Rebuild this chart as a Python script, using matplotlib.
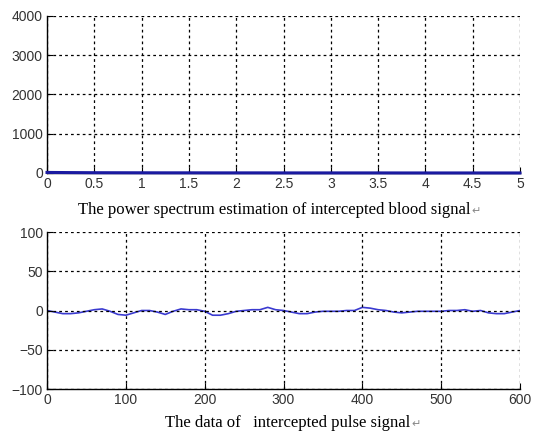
import matplotlib.pyplot as plt

# power spectrum of the blood signal (frequency, power)
freq = [0, 0.25, 0.5, 0.75, 1, 1.25, 1.5, 1.75, 2, 2.25, 2.5, 2.75, 3,
        3.25, 3.5, 3.75, 4, 4.25, 4.5, 4.75, 5]
power = [14, 10, 7, 6, 5, 4, 4, 3, 3, 3, 2, 2, 2, 2, 2, 1, 1, 1, 1, 1, 1]

# intercepted pulse signal, one value every 10 samples
sample = list(range(0, 610, 10))
pulse = [0, -2, -4, -4, -3, -1, 1, 2, -1, -5, -6, -3, 0, 0, -2, -5,
         -1, 2, 1, 1, -1, -6, -6, -4, -1, 0, 1, 1, 4, 1, 0, -2,
         -4, -4, -2, -1, -1, -1, 0, 0, 4, 3, 1, 0, -2, -3, -2, -1,
         -1, -1, -1, 0, 0, 1, -1, 0, -3, -4, -4, -2, 0]

captions = ['The power spectrum estimation of intercepted blood signal',
            'The data of   intercepted pulse signal']

plt.rcParams['font.family'] = ['Liberation Sans', 'DejaVu Sans']
fig = plt.figure(figsize=(5.33, 4.33), dpi=100)

cap_font = ['Liberation Serif', 'DejaVu Sans']
grid_style = dict(color='black', linestyle=(0, (2.2, 2.5)), linewidth=0.9)


def style(ax):
    for s in ['top', 'right']:
        ax.spines[s].set_visible(False)
    ax.spines['left'].set_linewidth(1.0)
    ax.spines['bottom'].set_linewidth(1.0)
    ax.tick_params(direction='in', length=4, labelsize=10, colors='black',
                   labelcolor='#333333', pad=3)
    ax.grid(True, **grid_style)
    ax.set_axisbelow(False)


ax1 = fig.add_axes([0.0882, 0.6005, 0.8874, 0.3626])
ax1.plot(freq, power, color='#1a1aa0', linewidth=2.2, clip_on=False, zorder=5)
ax1.set_xlim(0, 5)
ax1.set_ylim(0, 4000)
ax1.set_xticks([0, 0.5, 1, 1.5, 2, 2.5, 3, 3.5, 4, 4.5, 5])
ax1.set_xticklabels(['0', '0.5', '1', '1.5', '2', '2.5', '3', '3.5', '4', '4.5', '5'])
ax1.set_yticks([0, 1000, 2000, 3000, 4000])
style(ax1)

ax2 = fig.add_axes([0.0882, 0.1016, 0.8874, 0.3626])
ax2.plot(sample, pulse, color='#3a3ad0', linewidth=1.2)
ax2.set_xlim(0, 600)
ax2.set_ylim(-100, 100)
ax2.set_xticks([0, 100, 200, 300, 400, 500, 600])
ax2.set_yticks([-100, -50, 0, 50, 100])
style(ax2)

# captions with a small grey return mark after each
fig.canvas.draw()
r = fig.canvas.get_renderer()
for (x, y), cap in zip([(0.146, 0.515), (0.310, 0.023)], captions):
    t = fig.text(x, y, cap, ha='left', va='center', fontsize=12, family=cap_font)
    bb = t.get_window_extent(r)
    fig.text(bb.x1 / fig.bbox.width + 0.002, y - 0.002, '\u21b5', ha='left',
             va='center', fontsize=8, color='#888888', family=['DejaVu Sans'])

fig.savefig('out.png', dpi=100)
